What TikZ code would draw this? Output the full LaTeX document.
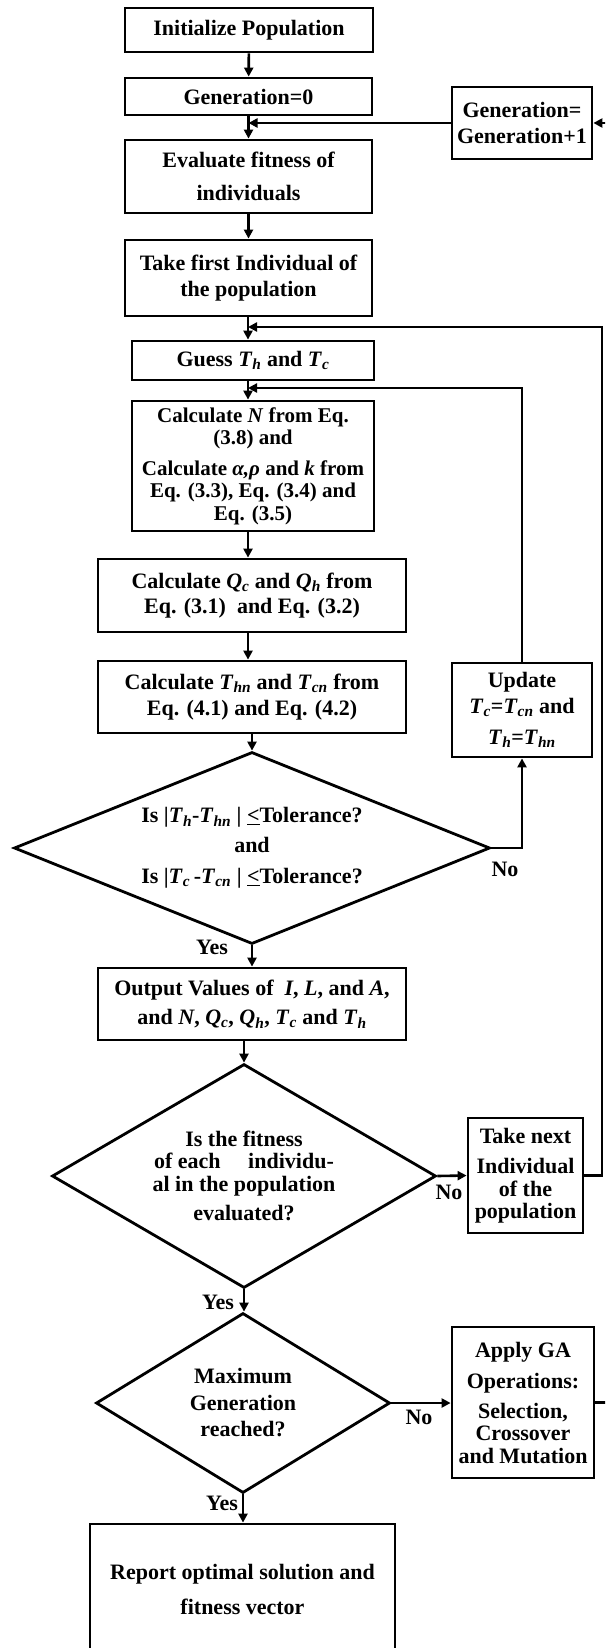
\documentclass[tikz,border=0pt]{standalone}
\usepackage{fontspec}
\setmainfont{Liberation Serif}
\usetikzlibrary{shapes.geometric,arrows.meta}
% italic symbol with an italic subscript
\newcommand\vr[2]{\textit{#1}\textsubscript{\textit{#2}}}
\begin{document}
\begin{tikzpicture}[x=1pt,y=-1pt,
  every node/.style={font=\fontsize{22}{22.5}\selectfont\bfseries},
  box/.style={draw,line width=2.8pt,rectangle,align=center,inner sep=1pt},
  dia/.style={draw,line width=2.8pt,diamond,inner sep=0pt},
  txt/.style={align=center,inner sep=0pt},
  lbl/.style={inner sep=0pt},
  arr/.style={line width=2.6pt,line join=miter,-{Triangle[length=9pt,width=9pt]}}]
\useasboundingbox (0,0) rectangle (605,1648);
\fill[white] (0,0) rectangle (605,1648);
\clip (0,0) rectangle (605,1648);

% main column
\node[box,minimum width=248pt,minimum height=44pt] (init) at (249,30) {Initialize Population};
\node[box,minimum width=247pt,minimum height=37pt] (gen0) at (248.5,96.5) {Generation=0};
\node[box,minimum width=247pt,minimum height=73pt] (eval) at (248.5,176.5) {Evaluate fitness of\\[11pt]individuals};
\node[box,minimum width=247pt,minimum height=76pt] (first) at (248.5,278) {Take first Individual of\\[4pt]the population};
\node[box,minimum width=242pt,minimum height=39pt] (guess) at (253,360.5) {Guess \vr{T}{h} and \vr{T}{c}};
\node[box,minimum width=242pt,minimum height=130pt,font=\fontsize{21}{22.5}\selectfont\bfseries] (calcN) at (253,466) {Calculate \textit{N} from Eq.\\(3.8) and\\[8pt]Calculate \textit{α,ρ} and \textit{k} from\\Eq. (3.3), Eq. (3.4) and\\Eq. (3.5)};
\node[box,minimum width=308pt,minimum height=73pt] (calcQ) at (252,595.5) {Calculate \vr{Q}{c} and \vr{Q}{h} from\\[3pt]Eq. (3.1)\ \ and Eq. (3.2)};
\node[box,minimum width=308pt,minimum height=72pt] (calcT) at (252,697) {Calculate \vr{T}{hn} and \vr{T}{cn} from\\[4pt]Eq. (4.1) and Eq. (4.2)};
\node[dia,minimum width=476pt,minimum height=192pt] (dia1) at (252,848) {};
\node[txt] (dia1t) at (dia1) {Is |\vr{T}{h}-\vr{T}{hn} | \underline{<}Tolerance?\\[7pt]and\\[9pt]Is |\vr{T}{c}\,-\vr{T}{cn} | \underline{<}Tolerance?};
\node[box,minimum width=308pt,minimum height=72pt] (out) at (252,1004) {Output Values of\ \ \textit{I}, \textit{L}, and \textit{A},\\[7pt]and \textit{N}, \vr{Q}{c}, \vr{Q}{h}, \vr{T}{c} and \vr{T}{h}};
\node[dia,minimum width=384pt,minimum height=224pt] (dia2) at (244,1176) {};
\node[txt] (dia2t) at (dia2) {Is the fitness\\of each\hspace{1em} individu-\\al in the population\\[7pt]evaluated?};
\node[dia,minimum width=294pt,minimum height=180pt] (dia3) at (243,1403) {};
\node[txt] (dia3t) at (dia3) {Maximum\\[4pt]Generation\\[4pt]reached?};
\node[box,minimum width=305pt,minimum height=131pt] (report) at (242.5,1589.5) {Report optimal solution and\\[13pt]fitness vector};

% side column
\node[box,minimum width=140pt,minimum height=72pt] (genp1) at (522,123) {Generation=\\[4pt]Generation+1};
\node[box,minimum width=140pt,minimum height=94pt] (update) at (522,710) {Update\\[4pt]\vr{T}{c}=\vr{T}{cn} and\\[8pt]\vr{T}{h}=\vr{T}{hn}};
\node[box,minimum width=115pt,minimum height=115pt,inner sep=0pt] (next) at (525.5,1175.5) {Take next\\[8pt]Individual\\of the\\population};
\node[box,minimum width=142pt,minimum height=151pt,inner sep=0pt] (apply) at (523,1402.5) {Apply GA\\[9pt]Operations:\\[7pt]Selection,\\Crossover\\and Mutation};

% branch labels
\node[lbl] (no1) at (505,869) {No};
\node[lbl] (yes1) at (212,947) {Yes};
\node[lbl] (no2) at (449,1192) {No};
\node[lbl] (yes2) at (218,1302) {Yes};
\node[lbl] (no3) at (419,1417) {No};
\node[lbl] (yes3) at (222,1503) {Yes};

% routing points
\coordinate (col) at (248,0);
\coordinate (j1) at (248,327);
\coordinate (j2) at (248,388);
\coordinate (rx) at (602,0);
\coordinate (ox) at (625,0);

% main flow
\draw[arr] (init) -- (gen0);
\draw[arr] (gen0) -- (eval);
\draw[arr] (eval) -- (first);
\draw[arr] (first.south -| col) -- (guess.north -| col);
\draw[arr] (guess.south -| col) -- (calcN.north -| col);
\draw[arr] (calcN.south -| col) -- (calcQ.north -| col);
\draw[arr] (calcQ.south -| col) -- (calcT.north -| col);
\draw[arr] (calcT.south -| dia1.north) -- (dia1.north);
\draw[arr] (dia1.south) -- (dia1.south |- out.north);
\draw[arr] (out.south -| dia2.north) -- (dia2.north);
\draw[arr] (dia2.south) -- (dia2.south |- dia3.north);
\draw[arr] (dia3.south) -- (dia3.south |- report.north);

% loops
\draw[arr] (genp1.west) -- (genp1.west -| gen0.south);
\draw[arr] (dia1.east) -| (update.south);
\draw[arr] (update.north) |- (j2);
\draw[arr] (dia2.east) -- (next.west);
\draw[arr] (next.east) -- (next.east -| rx) -- (rx |- j1) -- (j1);
\draw[arr] (dia3.east) -- (dia3.east -| apply.west);
\draw[arr] (apply.east) -- (apply.east -| ox) -- (ox |- genp1.east) -- (genp1.east);
\end{tikzpicture}
\end{document}
